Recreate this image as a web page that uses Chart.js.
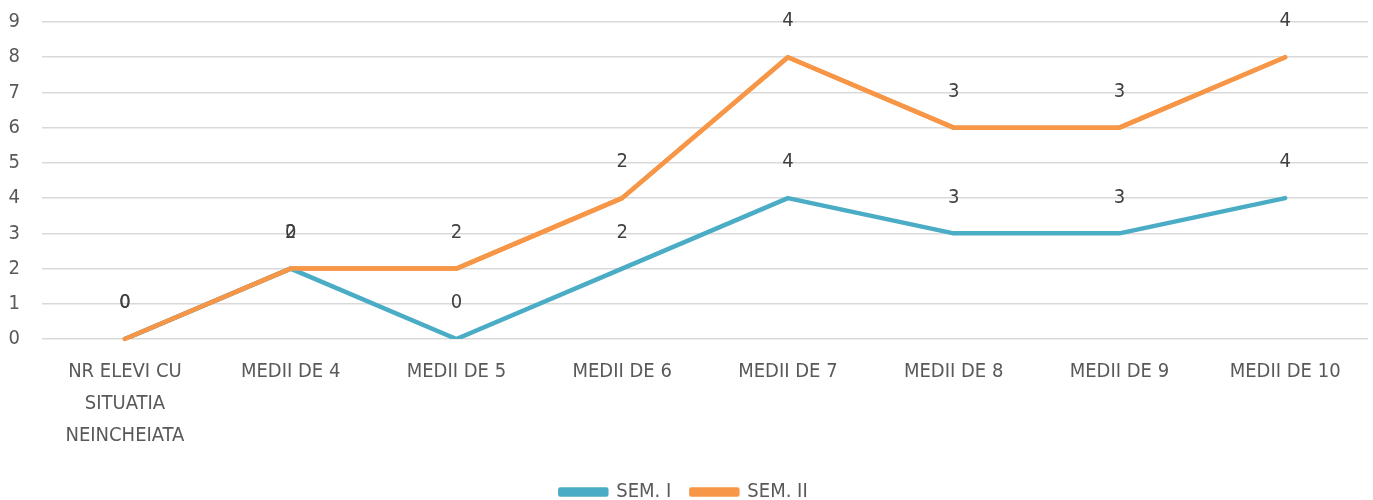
<!DOCTYPE html>
<html>
<head>
<meta charset="utf-8">
<script src="https://cdn.jsdelivr.net/npm/chart.js@4"></script>
<style>
    body { margin: 0; background: #fff; }
    #wrap { width: 1373px; height: 500px; }
</style>
</head>
<body>
<div id="wrap"><canvas id="myChart"></canvas></div>
<script>
let categories = [
    ['NR ELEVI CU', 'SITUATIA', 'NEINCHEIATA'],
    'MEDII DE 4', 'MEDII DE 5', 'MEDII DE 6', 'MEDII DE 7', 'MEDII DE 8', 'MEDII DE 9', 'MEDII DE 10'
];
let sem1 = [0, 2, 0, 2, 4, 3, 3, 4];
let sem2 = [0, 0, 2, 2, 4, 3, 3, 4];
let yTicks = [0, 1, 2, 3, 4, 5, 6, 7, 8, 9];

(function () {
    'use strict';

    let fontName = '"Liberation Sans Narrow", "DejaVu Sans Condensed", "Liberation Sans", sans-serif'
    let grey = '#595959'

    // value labels above each point (excel style)
    // sem. II is stacked on sem. I but has to sit on top, so redraw it first
    let valueLabels = {
        id: 'valueLabels',
        afterDatasetsDraw(chart) {
            chart.getDatasetMeta(1).controller.draw()

            let ctx = chart.ctx
            ctx.save()
            ctx.font = '20px ' + fontName
            ctx.fillStyle = '#404040'
            ctx.textAlign = 'center'
            ctx.textBaseline = 'middle'
            chart.data.datasets.forEach((ds, i) => {
                let meta = chart.getDatasetMeta(i)
                meta.data.forEach((pt, j) => {
                    ctx.fillText(String(ds.data[j]), pt.x, pt.y - 36)
                })
            })
            ctx.restore()
        }
    }

    let ctx = document.getElementById('myChart').getContext('2d')
    new Chart(ctx, {
        type: 'line',
        data: {
            labels: categories,
            datasets: [{
                label: 'SEM. I',
                data: sem1,
                borderColor: '#4BACC6',
                backgroundColor: '#4BACC6'
            }, {
                label: 'SEM. II',
                data: sem2,
                borderColor: '#F79646',
                backgroundColor: '#F79646'
            }]
        },
        options: {
            responsive: true,
            maintainAspectRatio: false,
            animation: false,
            layout: { padding: { top: 22, right: 5, left: 0, bottom: -12 } },
            elements: {
                line: { borderWidth: 4.5, tension: 0, fill: false, borderCapStyle: 'round', borderJoinStyle: 'round' },
                point: { radius: 0, hoverRadius: 0 }
            },
            scales: {
                x: {
                    offset: true,
                    afterFit: s => { s.height = 123 },
                    grid: { display: false },
                    border: { display: false },
                    ticks: {
                        color: grey,
                        font: { family: fontName, size: 20, lineHeight: 1.6 },
                        padding: 9,
                        maxRotation: 0,
                        autoSkip: false
                    }
                },
                y: {
                    stacked: true,
                    min: yTicks[0],
                    max: yTicks[yTicks.length - 1],
                    afterFit: s => {
                        s.width = 42
                        s.paddingTop = 0
                        s.paddingBottom = 0
                    },
                    grid: { color: '#d9d9d9', lineWidth: 1.5, drawTicks: false },
                    border: { display: false },
                    ticks: {
                        stepSize: 1,
                        color: grey,
                        padding: 22,
                        font: { family: fontName, size: 20 }
                    }
                }
            },
            plugins: {
                legend: {
                    position: 'bottom',
                    labels: {
                        boxWidth: 46,
                        boxHeight: 5,
                        padding: 20,
                        color: grey,
                        font: { family: fontName, size: 20 }
                    }
                },
                tooltip: { enabled: false }
            }
        },
        plugins: [valueLabels]
    })
})();
</script>
</body>
</html>
